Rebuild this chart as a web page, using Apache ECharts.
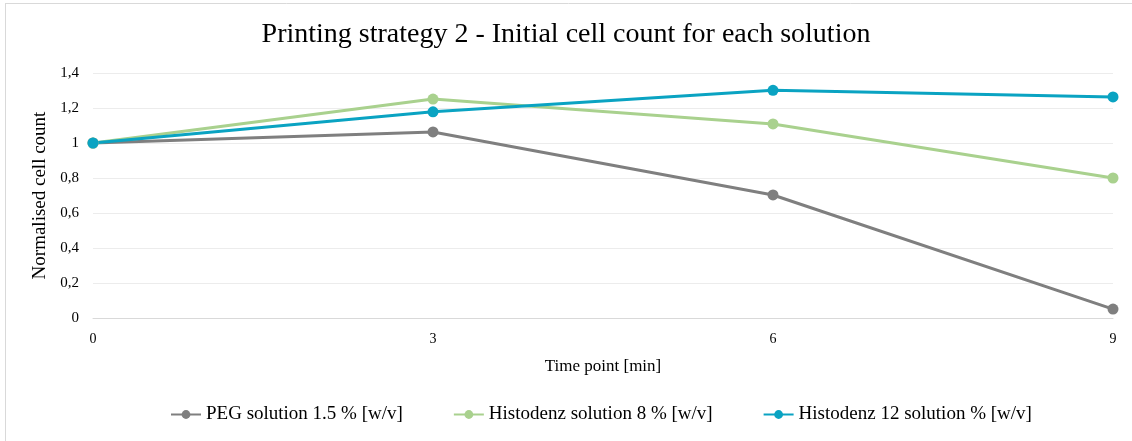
<!DOCTYPE html>
<html><head><meta charset="utf-8">
<script src="https://cdn.jsdelivr.net/npm/echarts@6/dist/echarts.min.js"></script>
<style>html,body{margin:0;padding:0;background:#fff}#c{width:1132px;height:441px}</style>
</head><body><div id="c"></div>
<script>
const timePoints = [0, 3, 6, 9];
const pegValues = [1, 1.063, 0.703, 0.051];
const histo8Values = [1, 1.251, 1.109, 0.80];
const histo12Values = [1, 1.178, 1.301, 1.263];
const seriesNames = ['PEG solution 1.5 % [w/v]', 'Histodenz solution 8 % [w/v]', 'Histodenz 12 solution % [w/v]'];
const colors = ['#7f7f7f', '#a9d18e', '#0aa3c2'];
const font = '"Liberation Serif", "DejaVu Serif", serif';

const chart = echarts.init(document.getElementById('c'));
function mk(name, vals, color) {
  return {
    name: name, type: 'line', data: timePoints.map((t, i) => [t, vals[i]]),
    symbol: 'circle', symbolSize: 11,
    lineStyle: { width: 3, color: color }, itemStyle: { color: color },
    emphasis: { disabled: true }
  };
}
chart.setOption({
  animation: false,
  textStyle: { fontFamily: font },
  title: {
    text: 'Printing strategy 2 - Initial cell count for each solution',
    left: 'center', top: 16,
    textStyle: { fontFamily: font, fontSize: 28, fontWeight: 'normal', color: '#000' }
  },
  graphic: [
    { type: 'line', shape: { x1: 5, y1: 3.5, x2: 1132, y2: 3.5 }, style: { stroke: '#d9d9d9', lineWidth: 1 } },
    { type: 'line', shape: { x1: 5.5, y1: 3, x2: 5.5, y2: 441 }, style: { stroke: '#d9d9d9', lineWidth: 1 } }
  ],
  grid: { left: 93, right: 19, top: 73, bottom: 123 },
  legend: {
    bottom: 12, left: 165, itemWidth: 30, itemHeight: 11, itemGap: 50,
    textStyle: { fontFamily: font, fontSize: 19, color: '#000' },
    data: seriesNames
  },
  xAxis: {
    type: 'value', min: 0, max: 9, interval: 3,
    name: 'Time point [min]', nameLocation: 'middle', nameGap: 40,
    nameTextStyle: { fontFamily: font, fontSize: 17, color: '#000' },
    axisLine: { lineStyle: { color: '#d9d9d9' } },
    axisTick: { show: false }, splitLine: { show: false },
    axisLabel: { fontFamily: font, fontSize: 14, color: '#000', margin: 14 }
  },
  yAxis: {
    type: 'value', min: 0, max: 1.4, interval: 0.2,
    name: 'Normalised cell count', nameLocation: 'middle', nameGap: 40,
    nameTextStyle: { fontFamily: font, fontSize: 19, color: '#000' },
    axisLine: { show: false }, axisTick: { show: false },
    splitLine: { lineStyle: { color: '#ececec' } },
    axisLabel: { fontFamily: font, fontSize: 15, color: '#000', margin: 14,
      formatter: v => (Math.round(v * 10) / 10).toString().replace('.', ',') }
  },
  series: [
    mk(seriesNames[0], pegValues, colors[0]),
    mk(seriesNames[1], histo8Values, colors[1]),
    mk(seriesNames[2], histo12Values, colors[2])
  ]
});
</script></body></html>
